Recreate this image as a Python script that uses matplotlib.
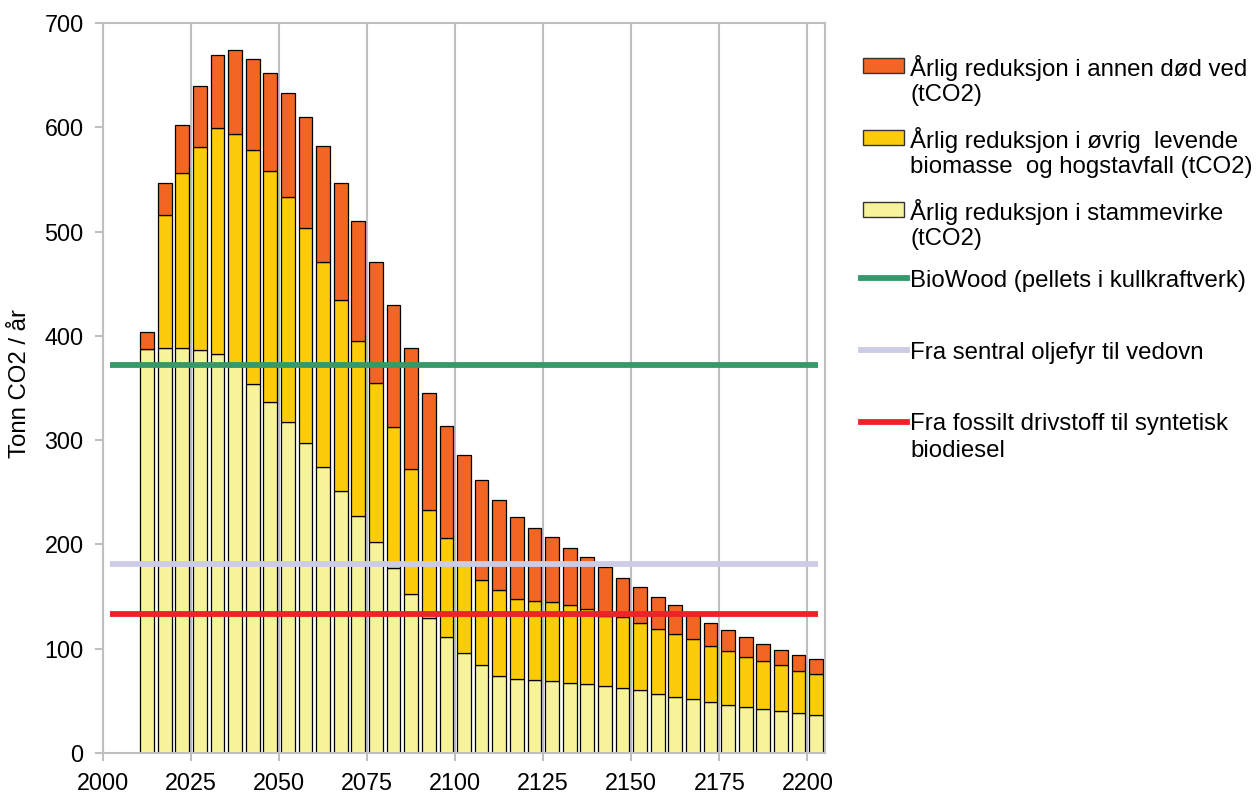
import matplotlib
matplotlib.use('Agg')
import matplotlib.pyplot as plt
from matplotlib.patches import Rectangle
from matplotlib.lines import Line2D

plt.rcParams['font.family'] = ['Liberation Sans', 'DejaVu Sans']

# period midpoints (5-year periods)
years = [2012.5, 2017.5, 2022.5, 2027.5, 2032.5, 2037.5, 2042.5, 2047.5, 2052.5, 2057.5,
         2062.5, 2067.5, 2072.5, 2077.5, 2082.5, 2087.5, 2092.5, 2097.5, 2102.5, 2107.5,
         2112.5, 2117.5, 2122.5, 2127.5, 2132.5, 2137.5, 2142.5, 2147.5, 2152.5, 2157.5,
         2162.5, 2167.5, 2172.5, 2177.5, 2182.5, 2187.5, 2192.5, 2197.5, 2202.5]

# tCO2 per year
stem = [387, 388, 388, 386, 383, 371, 354, 337, 317, 297,
        274, 251, 227, 202, 177, 152, 129, 111, 96, 84,
        74, 71, 70, 69, 67, 66, 64, 62, 60, 57,
        54, 52, 49, 46, 44, 42, 40, 38, 36]
living = [0, 128, 168, 195, 216, 223, 224, 221, 216, 206,
          197, 183, 168, 153, 136, 120, 104, 95, 84, 82,
          82, 77, 76, 76, 75, 72, 67, 68, 65, 62,
          60, 57, 54, 52, 48, 46, 44, 41, 40]
dead = [17, 31, 46, 59, 70, 80, 87, 94, 100, 107,
        111, 113, 115, 116, 117, 116, 112, 108, 106, 96,
        87, 78, 70, 62, 55, 50, 47, 38, 34, 31,
        28, 23, 22, 20, 19, 17, 15, 15, 14]

# comparison levels (tCO2 per year)
biowood = 372
oljefyr = 181
biodiesel = 133

lab_dead = 'Årlig reduksjon i annen død ved\n(tCO2)'
lab_living = 'Årlig reduksjon i øvrig  levende\nbiomasse  og hogstavfall (tCO2)'
lab_stem = 'Årlig reduksjon i stammevirke\n(tCO2)'
lab_bio = 'BioWood (pellets i kullkraftverk)'
lab_olje = 'Fra sentral oljefyr til vedovn'
lab_diesel = 'Fra fossilt drivstoff til syntetisk\nbiodiesel'

c_dead = '#F26522'
c_living = '#FCCB0A'
c_stem = '#F7F39B'
c_bio = '#36996A'
c_olje = '#CCCCE6'
c_diesel = '#EE2228'
grey = '#BFBFBF'

W, H = 1256, 798
fig = plt.figure(figsize=(W / 100, H / 100), dpi=100)
ax = fig.add_axes([103 / W, 1 - 753 / H, 722 / W, 730 / H])

bw = 3.9
base2 = [s + l for s, l in zip(stem, living)]
ax.bar(years, stem, width=bw, color=c_stem, edgecolor='black', linewidth=0.9, zorder=2)
ax.bar(years, living, width=bw, bottom=stem, color=c_living, edgecolor='black', linewidth=0.9, zorder=2)
ax.bar(years, dead, width=bw, bottom=base2, color=c_dead, edgecolor='black', linewidth=0.9, zorder=2)

x0, x1 = 2002, 2203
ax.hlines(biowood, x0, x1, color=c_bio, linewidth=4.2, zorder=3)
ax.hlines(oljefyr, x0, x1, color=c_olje, linewidth=4.2, zorder=3)
ax.hlines(biodiesel, x0, x1, color=c_diesel, linewidth=4.2, zorder=3)

ax.set_xlim(2000, 2205)
ax.set_ylim(0, 700)
ax.set_xticks(range(2000, 2201, 25))
ax.set_yticks(range(0, 701, 100))
ax.grid(axis='x', color=grey, linewidth=1.5, zorder=0)
ax.set_axisbelow(True)
for sp in ax.spines.values():
    sp.set_color(grey)
    sp.set_linewidth(1.5)
ax.tick_params(axis='both', color=grey, width=1.5, length=6, labelsize=16.8)
ax.tick_params(axis='x', pad=8)
ax.tick_params(axis='y', pad=8)

fig.text(20 / W, 1 - 383 / H, 'Tonn CO2 / år', rotation=90, ha='center', va='center', fontsize=17.3)

# legend drawn in figure pixels
entries = [('patch', c_dead, lab_dead, 65.5),
           ('patch', c_living, lab_living, 137.2),
           ('patch', c_stem, lab_stem, 209.2),
           ('line', c_bio, lab_bio, 278.3),
           ('line', c_olje, lab_olje, 350.0),
           ('line', c_diesel, lab_diesel, 421.7)]
for kind, col, lab, yc in entries:
    if kind == 'patch':
        fig.patches.append(Rectangle((863 / W, 1 - (yc + 7.5) / H), 41 / W, 15 / H,
                                     facecolor=col, edgecolor='#333333', linewidth=1,
                                     transform=fig.transFigure, figure=fig))
    else:
        fig.lines.append(Line2D([861 / W, 907 / W], [1 - yc / H, 1 - yc / H], color=col,
                                linewidth=4.2, transform=fig.transFigure, figure=fig))
    for i, part in enumerate(lab.split('\n')):
        fig.text(910 / W, 1 - (yc + 26.8 * i) / H, part, ha='left',
                 va='center_baseline', fontsize=17.3)

fig.savefig('out.png', dpi=100)
